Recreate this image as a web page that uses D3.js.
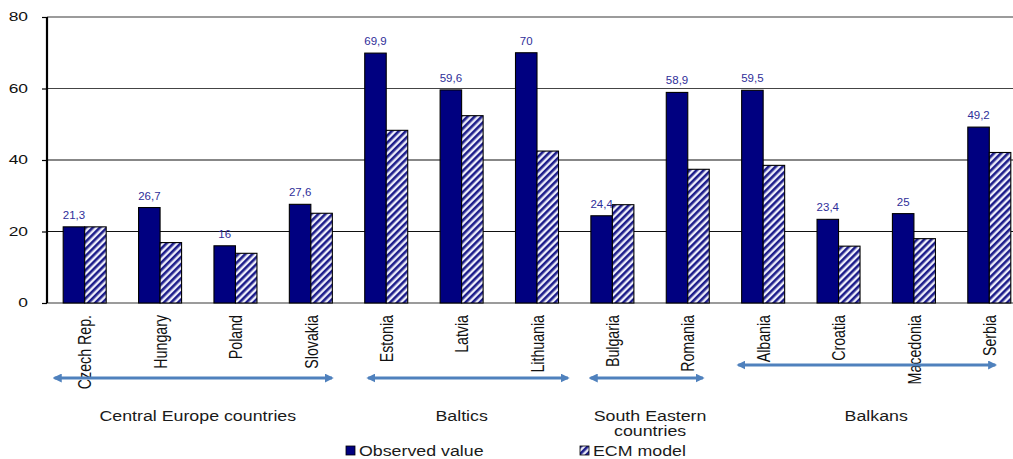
<!DOCTYPE html>
<html>
<head>
<meta charset="utf-8">
<script src="https://cdn.jsdelivr.net/npm/d3@7"></script>
<style>
  body { margin: 0; background: #fff; }
  text { font-family: Arial, "Liberation Sans", sans-serif; }
</style>
</head>
<body>
<div id="wrapper"></div>
<script>
const countries = ["Czech Rep.", "Hungary", "Poland", "Slovakia", "Estonia", "Latvia", "Lithuania",
  "Bulgaria", "Romania", "Albania", "Croatia", "Macedonia", "Serbia"]
const observed = [21.3, 26.7, 16, 27.6, 69.9, 59.6, 70, 24.4, 58.9, 59.5, 23.4, 25, 49.2]
const ecm = [21.3, 16.9, 13.9, 25.1, 48.3, 52.4, 42.5, 27.5, 37.4, 38.5, 15.9, 18.0, 42.1]
const seriesNames = ["Observed value", "ECM model"]
const yTicks = [0, 20, 40, 60, 80]
const groupNames = [["Central Europe countries"], ["Baltics"], ["South Eastern", "countries"], ["Balkans"]]
const groupFirst = ["Czech Rep.", "Estonia", "Bulgaria", "Albania"]
const groupLast = ["Slovakia", "Lithuania", "Romania", "Serbia"]
// arrow ends, in category units (0 = centre of first country)
const arrowFrom = [-0.40, 3.76, 6.71, 8.67]
const arrowTo = [3.28, 6.41, 8.20, 12.08]

const dimensions = {
  width: 1013,
  height: 459,
  margins: { top: 17, right: -14, bottom: 156, left: 47 }
}
dimensions.boundedWidth = dimensions.width - dimensions.margins.left - dimensions.margins.right
dimensions.boundedHeight = dimensions.height - dimensions.margins.top - dimensions.margins.bottom

const navy = "#000080"
const blueText = "#2e2e99"
const arrowColor = "#4f81bd"

const svg = d3.select("#wrapper").append("svg")
  .attr("width", dimensions.width)
  .attr("height", dimensions.height)

const defs = svg.append("defs")
const hatch = defs.append("pattern")
  .attr("id", "hatch")
  .attr("patternUnits", "userSpaceOnUse")
  .attr("width", 5).attr("height", 5)
  .attr("patternTransform", "rotate(45)")
hatch.append("rect").attr("width", 5).attr("height", 5).attr("fill", "#eeeefa")
hatch.append("line").attr("x1", 1.3).attr("x2", 1.3).attr("y1", 0).attr("y2", 5)
  .attr("stroke", "#1c1c8a").attr("stroke-width", 2.6)

defs.append("marker")
  .attr("id", "arrowhead")
  .attr("viewBox", "0 0 10 10")
  .attr("refX", 8).attr("refY", 5)
  .attr("markerWidth", 3).attr("markerHeight", 3)
  .attr("orient", "auto-start-reverse")
  .append("path")
    .attr("d", "M0,0 L10,5 L0,10 Z")
    .attr("fill", arrowColor)

const bounds = svg.append("g")
  .attr("transform", `translate(${dimensions.margins.left},${dimensions.margins.top})`)

const xScale = d3.scaleBand()
  .domain(countries)
  .range([0, dimensions.boundedWidth])

const barW = 21.5
const xSub = d3.scaleBand()
  .domain(seriesNames)
  .range([xScale.bandwidth() / 2 - barW, xScale.bandwidth() / 2 + barW])

const yScale = d3.scaleLinear()
  .domain([0, 80])
  .range([dimensions.boundedHeight, 0])

const idxScale = d3.scaleLinear()
  .domain([0, 1])
  .range([xScale(countries[0]) + xScale.bandwidth() / 2, xScale(countries[1]) + xScale.bandwidth() / 2])

// stretched text helper (the source image text is wider than normal Arial)
function wideText(sel, x, y, str, size, sx, anchor, color) {
  return sel.append("text")
    .attr("transform", `translate(${x},${y}) scale(${sx},1)`)
    .attr("text-anchor", anchor)
    .attr("font-size", size)
    .attr("fill", color)
    .text(str)
}

// gridlines
bounds.append("g").selectAll("line")
  .data(yTicks)
  .join("line")
    .attr("x1", 0)
    .attr("x2", dimensions.boundedWidth)
    .attr("y1", d => yScale(d))
    .attr("y2", d => yScale(d))
    .attr("stroke", d => (d == 80 || d == 0) ? "#7a7a7a" : (d == 60 ? "#444" : "#111"))
    .attr("stroke-width", d => (d == 80 || d == 0) ? 1.6 : 1.1)

// bars
const rows = countries.map((c, i) => ({ country: c, values: [observed[i], ecm[i]] }))
const groups = bounds.append("g").selectAll("g")
  .data(rows)
  .join("g")
    .attr("transform", d => `translate(${xScale(d.country)},0)`)

groups.selectAll("rect")
  .data(d => d.values.map((v, j) => ({ key: seriesNames[j], value: v })))
  .join("rect")
    .attr("x", d => xSub(d.key))
    .attr("width", xSub.bandwidth())
    .attr("y", d => yScale(d.value))
    .attr("height", d => dimensions.boundedHeight - yScale(d.value))
    .attr("fill", d => d.key == seriesNames[0] ? navy : "url(#hatch)")
    .attr("stroke", "#000")
    .attr("stroke-width", 1.1)

// value labels over observed bars
groups.each(function(d) {
  wideText(d3.select(this), xSub(seriesNames[0]) + xSub.bandwidth() / 2,
    yScale(d.values[0]) - 8, String(d.values[0]).replace(".", ","), 10, 1.15, "middle", blueText)
})

// y axis
const yAxisGenerator = d3.axisLeft(yScale)
  .tickValues(yTicks)
  .tickSize(5)
  .tickFormat("")
const yAxis = bounds.append("g").call(yAxisGenerator)
yAxis.select(".domain").attr("stroke", "#000").attr("stroke-width", 2.2)
  .attr("d", `M0,${yScale(80)}V${yScale(0)}`)
yAxis.selectAll(".tick line").attr("stroke", "#000").attr("stroke-width", 1.2)
yTicks.forEach(t => {
  wideText(bounds, -19, yScale(t) + 4.2, t, 12, 1.45, "end", "#111")
})

// x labels (rotated, stretched across like the source)
bounds.append("g").selectAll("text")
  .data(countries)
  .join("text")
    .attr("transform", d => `translate(${xScale(d) + xScale.bandwidth() / 2},${dimensions.boundedHeight + 12}) rotate(-90) scale(1,1.3)`)
    .attr("text-anchor", "end")
    .attr("dy", "0.36em")
    .attr("font-size", 14.2)
    .attr("fill", "#111")
    .text(d => d)

// group arrows and names
groupNames.forEach((lines, i) => {
  const y = i == 3 ? 365 : 378
  bounds.append("line")
    .attr("x1", idxScale(arrowFrom[i]))
    .attr("x2", idxScale(arrowTo[i]))
    .attr("y1", y - dimensions.margins.top)
    .attr("y2", y - dimensions.margins.top)
    .attr("stroke", arrowColor)
    .attr("stroke-width", 3)
    .attr("marker-start", "url(#arrowhead)")
    .attr("marker-end", "url(#arrowhead)")
  const mid = (idxScale(countries.indexOf(groupFirst[i])) + idxScale(countries.indexOf(groupLast[i]))) / 2
  lines.forEach((ln, k) => {
    wideText(bounds, mid, 421 - dimensions.margins.top + k * 15, ln, 14, 1.27, "middle", "#1a1a1a")
  })
})

// legend
const legend = svg.append("g")
const legendX = [346, 580]
seriesNames.forEach((name, i) => {
  legend.append("rect")
    .attr("x", legendX[i]).attr("y", 446)
    .attr("width", 9).attr("height", 9)
    .attr("fill", i == 0 ? navy : "url(#hatch)")
    .attr("stroke", "#000").attr("stroke-width", 0.8)
  wideText(legend, legendX[i] + 13, 456, name, 14, 1.27, "start", "#1a1a1a")
})
</script>
</body>
</html>
